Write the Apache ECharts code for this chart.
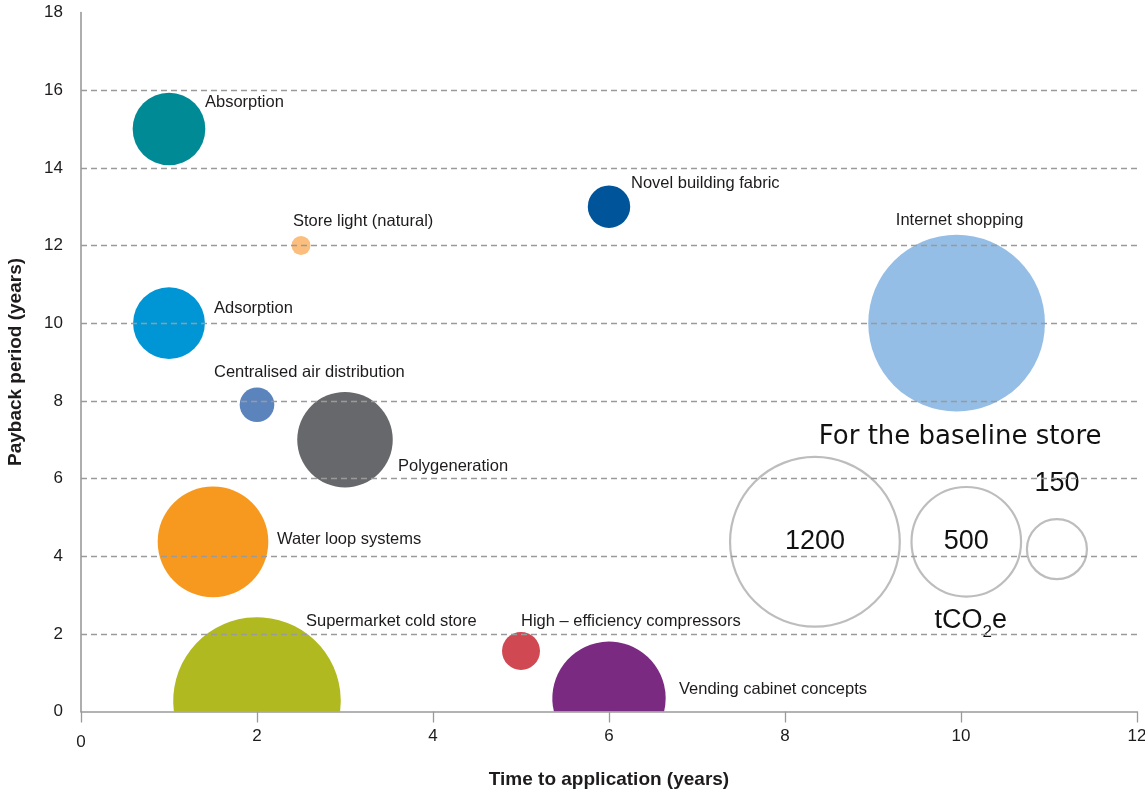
<!DOCTYPE html>
<html>
<head>
<meta charset="utf-8">
<script src="https://cdn.jsdelivr.net/npm/echarts@6/dist/echarts.min.js"></script>
<style>html,body{margin:0;padding:0;background:#fff}#c{width:1145px;height:793px}</style>
</head>
<body>
<div id="c"></div>
<script>
// ---- data ----
const names = ['Absorption', 'Store light (natural)', 'Novel building fabric', 'Internet shopping',
  'Adsorption', 'Centralised air distribution', 'Polygeneration', 'Water loop systems',
  'Supermarket cold store', 'High \u2013 efficiency compressors', 'Vending cabinet concepts'];
const timeToApplication = [1, 2.5, 6, 9.95, 1, 2, 3, 1.5, 2, 5, 6];          // years
const paybackPeriod = [15, 12, 13, 10, 10, 7.9, 7, 4.37, 0.27, 1.56, 0.34];  // years
const emissions = [220, 15, 75, 1300, 215, 50, 380, 510, 1170, 60, 535];     // tCO2e

const legendValues = [1200, 500, 150];
const legendX = [8.34, 10.06, 11.09];
const legendY = [4.37, 4.37, 4.18];

const xTicks = [0, 2, 4, 6, 8, 10, 12];
const yTicks = [0, 2, 4, 6, 8, 10, 12, 14, 16, 18];

// ---- styles ----
const colors = ['#008A96', '#FBBE7C', '#00559A', '#95BEE6', '#0096D6', '#5B83BC',
  '#67686B', '#F7991F', '#B1B920', '#D04852', '#7A2B81'];
// label placement relative to bubble centre: [dx, dy, align]
const labelPlacement = [[36, -27, 'left'], [-8, -24, 'left'], [22, -23, 'left'], [3, -103, 'center'],
  [45, -15, 'left'], [-43, -32, 'left'], [53, 27, 'left'], [64, -2, 'left'],
  [49, -80, 'left'], [0, -29, 'left'], [70, -9, 'left']];
const legendLabelDy = [0, 0, -66];
const K = 2.45; // radius = K * sqrt(tCO2e)
const FONT = '"Liberation Sans", Arial, sans-serif';

const chart = echarts.init(document.getElementById('c'), null, {renderer: 'canvas'});

function renderBubble(params, api) {
  const i = params.dataIndex;
  const c = api.coord([api.value(0), api.value(1)]);
  const r = K * Math.sqrt(api.value(2));
  const cs = params.coordSys;
  const bottom = cs.y + cs.height;
  let shape;
  if (c[1] + r > bottom) {
    const d = bottom - c[1];
    const w = Math.sqrt(r * r - d * d);
    shape = {type: 'path', shape: {pathData: 'M' + (c[0] - w) + ' ' + bottom + ' A' + r + ' ' + r + ' 0 ' + (d > 0 ? 1 : 0) + ' 1 ' + (c[0] + w) + ' ' + bottom + ' Z'},
      style: {fill: colors[i]}};
  } else {
    shape = {type: 'circle', shape: {cx: c[0], cy: c[1], r: r}, style: {fill: colors[i]}};
  }
  const lp = labelPlacement[i];
  const text = {type: 'text', style: {text: names[i], x: c[0] + lp[0], y: c[1] + lp[1], align: lp[2],
    verticalAlign: 'middle', fill: '#1e1b1c', font: '16.5px ' + FONT}};
  return {type: 'group', children: [shape, text]};
}

function renderLegend(params, api) {
  const i = params.dataIndex;
  const c = api.coord([api.value(0), api.value(1)]);
  const r = K * Math.sqrt(api.value(2));
  return {type: 'group', children: [
    {type: 'circle', shape: {cx: c[0], cy: c[1], r: r}, style: {fill: 'none', stroke: '#bdbdbd', lineWidth: 2.2}},
    {type: 'text', style: {text: String(legendValues[i]), x: c[0], y: c[1] + legendLabelDy[i], align: 'center',
      verticalAlign: 'middle', fill: '#111', font: '27px ' + FONT}}
  ]};
}

function renderNotes(params, api) {
  const c = api.coord([api.value(0), api.value(1)]);
  if (params.dataIndex === 0) {
    return {type: 'text', style: {text: 'For the baseline store', x: c[0], y: c[1], align: 'center', verticalAlign: 'middle',
      fill: '#111', font: '26px "DejaVu Sans", sans-serif'}};
  }
  return {type: 'text', style: {text: '{a|tCO}{b|2}{a|e}', x: c[0], y: c[1], align: 'center', verticalAlign: 'top',
    fill: '#111', rich: {a: {fontSize: 27, fontFamily: 'Liberation Sans', lineHeight: 30, verticalAlign: 'top', fill: '#111'},
      b: {fontSize: 17, fontFamily: 'Liberation Sans', padding: [17, 0, 0, 0], verticalAlign: 'top', fill: '#111'}}}};
}

const bubbleData = names.map((n, i) => [timeToApplication[i], paybackPeriod[i], emissions[i]]);
const legendData = legendValues.map((v, i) => [legendX[i], legendY[i], v]);
const notesData = [[9.99, 7.06], [10.11, 2.69]];

const splitColors = yTicks.map((t, i) => (i === 0 || i === yTicks.length - 1) ? 'rgba(0,0,0,0)' : '#9a9a9a');

chart.setOption({
  animation: false,
  backgroundColor: '#fff',
  grid: {left: 81, right: 8, top: 12.5, bottom: 81.5, containLabel: false, outerBoundsMode: 'none'},
  xAxis: {
    type: 'value', min: xTicks[0], max: xTicks[xTicks.length - 1], interval: 2, z: 5,
    name: 'Time to application (years)', nameLocation: 'middle', nameGap: 59,
    nameTextStyle: {fontSize: 19, fontWeight: 'bold', fontFamily: FONT, color: '#1e1b1c'},
    axisLine: {show: true, lineStyle: {color: '#9a9a9a', width: 1.6}},
    axisTick: {show: true, length: 11, lineStyle: {color: '#9a9a9a', width: 1.3}},
    axisLabel: {fontSize: 17, fontFamily: FONT, color: '#1e1b1c', margin: 16,
      formatter: v => v === 0 ? '{lo|0}' : String(v), rich: {lo: {padding: [6, 0, 0, 0], fontSize: 17, fontFamily: FONT, color: '#1e1b1c'}}},
    splitLine: {show: false}
  },
  yAxis: {
    type: 'value', min: yTicks[0], max: yTicks[yTicks.length - 1], interval: 2, z: 5,
    name: 'Payback period (years)', nameLocation: 'middle', nameGap: 56,
    nameTextStyle: {fontSize: 19, fontWeight: 'bold', fontFamily: FONT, color: '#1e1b1c'},
    axisLine: {show: true, lineStyle: {color: '#9a9a9a', width: 1.6}},
    axisTick: {show: false},
    axisLabel: {fontSize: 17, fontFamily: FONT, color: '#1e1b1c', margin: 18},
    splitLine: {show: true, lineStyle: {color: splitColors, type: [6, 4], width: 1.3}}
  },
  series: [
    {type: 'custom', z: 1, renderItem: renderBubble, data: bubbleData, silent: true, clip: false},
    {type: 'custom', z: 1, renderItem: renderLegend, data: legendData, silent: true, clip: false},
    {type: 'custom', z: 1, renderItem: renderNotes, data: notesData, silent: true, clip: false}
  ]
});
</script>
</body>
</html>
